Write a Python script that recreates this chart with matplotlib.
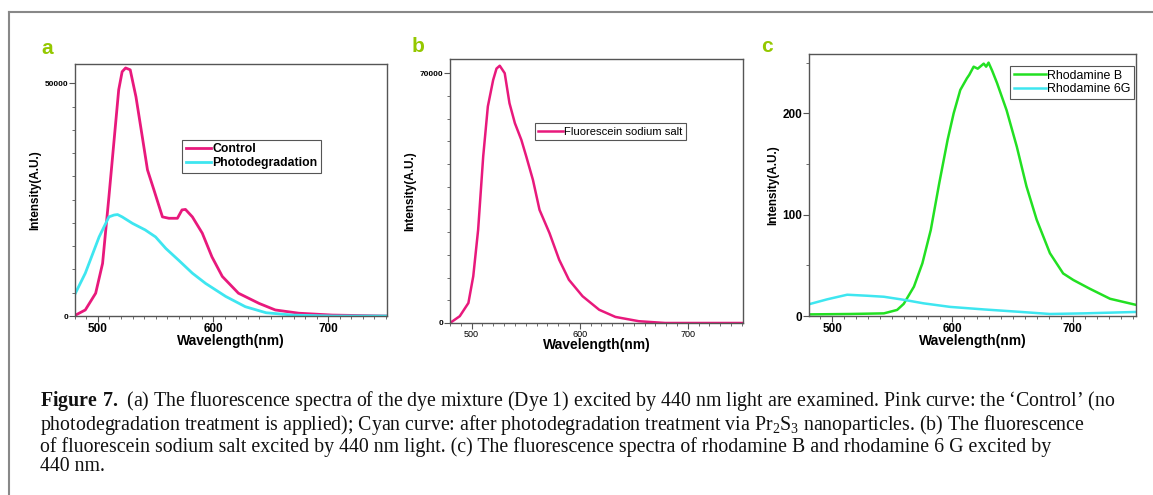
import numpy as np
from matplotlib import pyplot as plt
from matplotlib.ticker import MultipleLocator, FixedLocator

plt.rcParams['font.family'] = ['Liberation Sans', 'DejaVu Sans']
plt.rcParams['mathtext.fontset'] = 'custom'
plt.rcParams['mathtext.rm'] = 'Liberation Serif'
plt.rcParams['mathtext.bf'] = 'Liberation Serif:bold'

# panel a: dye mixture
controlWl = [479, 489, 498, 504, 509.5, 514, 518, 521, 524, 528, 533, 538.5, 543, 548.6, 556, 561.6,
             569, 573, 576, 582, 590.6, 599, 608, 622, 640, 654, 674.5, 703.5, 750]
controlInt = [0, 1300, 4900, 11300, 25600, 37800, 48600, 52500, 53300, 52900, 47100, 38500, 31400, 27100,
              21300, 21000, 21000, 22800, 22900, 21300, 17800, 12700, 8500, 4900, 2700, 1300, 600, 200, 0]
photoWl = [479, 489, 501, 509.5, 514, 517, 521, 530, 541, 550, 559, 570, 582, 593.5, 611, 628, 646, 669, 703.5, 750]
photoInt = [4200, 9200, 17000, 21300, 21700, 21800, 21300, 19900, 18500, 17000, 14500, 12000, 9200, 7000,
            4200, 2000, 700, 200, 0, 0]

# panel b: fluorescein sodium salt
fluorWl = [480, 489, 497, 501.5, 506, 510.7, 515, 519.9, 523, 526, 530.6, 535, 540, 546, 550.5, 556.7,
           562.8, 572, 581, 590, 602.6, 618, 633, 654.6, 679, 750]
fluorInt = [0, 1900, 5600, 13100, 26100, 46700, 60700, 68100, 71300, 72100, 70000, 61600, 56000, 51300,
            46700, 40100, 31700, 25200, 17700, 12100, 7500, 3700, 1700, 500, 0, 0]

# panel c: rhodamines
rhBWl = [482, 515, 543, 554, 559.5, 568, 575, 582, 589, 596, 601, 606.5, 612, 614, 617.6, 621, 626, 628,
         630, 633, 637, 645, 653.5, 661.5, 670, 681, 692, 700.5, 714, 731, 752.5]
rhBInt = [1.6, 2, 2.6, 6, 12, 29, 52, 85, 131, 174, 200, 223, 234.5, 238, 246, 244, 249, 246, 250, 242,
          230, 203, 167, 128, 95, 62, 42, 35.5, 27, 17, 11]
rh6GWl = [482, 496, 512.5, 529, 543, 559.5, 576, 598, 626, 653.5, 681, 709, 752.5]
rh6GInt = [12, 16.5, 21, 20, 19, 16, 12.5, 9, 6.5, 4.3, 2, 2.6, 4]

pink = '#e8197c'
cyan = '#3ee6f0'
green = '#22e022'
labelGreen = '#94c800'
spineColor = '#555555'

fig = plt.figure(figsize=(11.53, 4.95), dpi=100)

# gray frame around the figure
fig.add_artist(plt.Line2D([9/1153, 1], [1-12/495, 1-12/495], color='#888888', lw=1.5))
fig.add_artist(plt.Line2D([9/1153, 9/1153], [0, 1-12/495], color='#888888', lw=1.5))


def styleAxes(ax, xfs, yfs, xbold, ybold):
    for s in ax.spines.values():
        s.set_color(spineColor)
        s.set_linewidth(1.0)
    ax.set_xlim(480, 751)
    ax.xaxis.set_major_locator(FixedLocator([500, 600, 700]))
    ax.xaxis.set_minor_locator(MultipleLocator(10))
    ax.tick_params(which='major', direction='out', length=4, width=0.8, color=spineColor, pad=1)
    ax.tick_params(which='minor', direction='out', length=2.5, width=0.6, color=spineColor)
    ax.tick_params(axis='x', labelsize=xfs)
    ax.tick_params(axis='y', labelsize=yfs)
    for t in ax.get_xticklabels():
        t.set_fontweight('bold' if xbold else 'normal')
    for t in ax.get_yticklabels():
        t.set_fontweight('bold' if ybold else 'normal')
    ax.set_xlabel('Wavelength(nm)', fontsize=10, fontweight='bold', labelpad=-1)
    ax.set_ylabel('Intensity(A.U.)', fontsize=8.5, fontweight='bold', labelpad=2)


# a
axA = fig.add_axes([0.0650, 0.3616, 0.2706, 0.5091])
axA.plot(controlWl, controlInt, color=pink, lw=2.0, label='Control')
axA.plot(photoWl, photoInt, color=cyan, lw=2.0, label='Photodegradation')
axA.set_ylim(0, 54150)
axA.yaxis.set_major_locator(FixedLocator([0, 50000]))
axA.yaxis.set_minor_locator(MultipleLocator(5000))
styleAxes(axA, 8.5, 6, True, True)
legA = axA.legend(loc='upper left', bbox_to_anchor=(0.343, 0.70), fancybox=False, edgecolor='#555555',
                  framealpha=1, handlelength=2.1, handletextpad=0.1, borderpad=0.3, labelspacing=0.15,
                  borderaxespad=0, prop={'weight': 'bold', 'size': 8.8})
legA.get_frame().set_linewidth(0.8)
fig.text(47/1153, 1-49/495, 'a', color=labelGreen, fontsize=15, fontweight='bold', va='center', ha='center')

# b
axB = fig.add_axes([0.3903, 0.3475, 0.2541, 0.5327])
axB.plot(fluorWl, fluorInt, color=pink, lw=1.8, label='Fluorescein sodium salt')
axB.set_ylim(0, 73900)
axB.yaxis.set_major_locator(FixedLocator([0, 70000]))
axB.yaxis.set_minor_locator(FixedLocator(np.arange(12) * 70000 / 11))
styleAxes(axB, 6.5, 6, False, True)
legB = axB.legend(loc='upper left', bbox_to_anchor=(0.29, 0.757), fancybox=False, edgecolor='#555555',
                  framealpha=1, handlelength=2.2, handletextpad=0.1, borderpad=0.3,
                  borderaxespad=0, prop={'size': 8.1})
legB.get_frame().set_linewidth(0.8)
fig.text(418/1153, 1-47/495, 'b', color=labelGreen, fontsize=15, fontweight='bold', va='center', ha='center')

# c
axC = fig.add_axes([0.7019, 0.3616, 0.2833, 0.5293])
axC.plot(rhBWl, rhBInt, color=green, lw=1.8, label='Rhodamine B')
axC.plot(rh6GWl, rh6GInt, color=cyan, lw=1.8, label='Rhodamine 6G')
axC.set_ylim(0, 258.5)
axC.yaxis.set_major_locator(FixedLocator([0, 100, 200]))
axC.yaxis.set_minor_locator(MultipleLocator(50))
styleAxes(axC, 8.5, 8.5, True, True)
axC.set_xlim(481, 752.5)
legC = axC.legend(loc='upper right', bbox_to_anchor=(0.994, 0.955), fancybox=False, edgecolor='#555555',
                  framealpha=1, handlelength=2.6, handletextpad=0.1, borderpad=0.3, labelspacing=0.15,
                  borderaxespad=0, prop={'size': 8.9})
legC.get_frame().set_linewidth(0.8)
fig.text(767/1153, 1-47/495, 'c', color=labelGreen, fontsize=15, fontweight='bold', va='center', ha='center')

# caption
captionLines = [
    "$\\bf{Figure\\ 7.}$ (a) The fluorescence spectra of the dye mixture (Dye 1) excited by 440 nm light are examined. Pink curve: the \u2018Control\u2019 (no",
    "photodegradation treatment is applied); Cyan curve: after photodegradation treatment via Pr$_2$S$_3$ nanoparticles. (b) The fluorescence",
    "of fluorescein sodium salt excited by 440 nm light. (c) The fluorescence spectra of rhodamine B and rhodamine 6 G excited by",
    "440 nm.",
]
fig.text(40/1153, 1-389/495, '\n'.join(captionLines), fontsize=14.3, family='Liberation Serif',
         va='top', ha='left', linespacing=1.0, color='#111111')

plt.savefig('out.png', dpi=100)
